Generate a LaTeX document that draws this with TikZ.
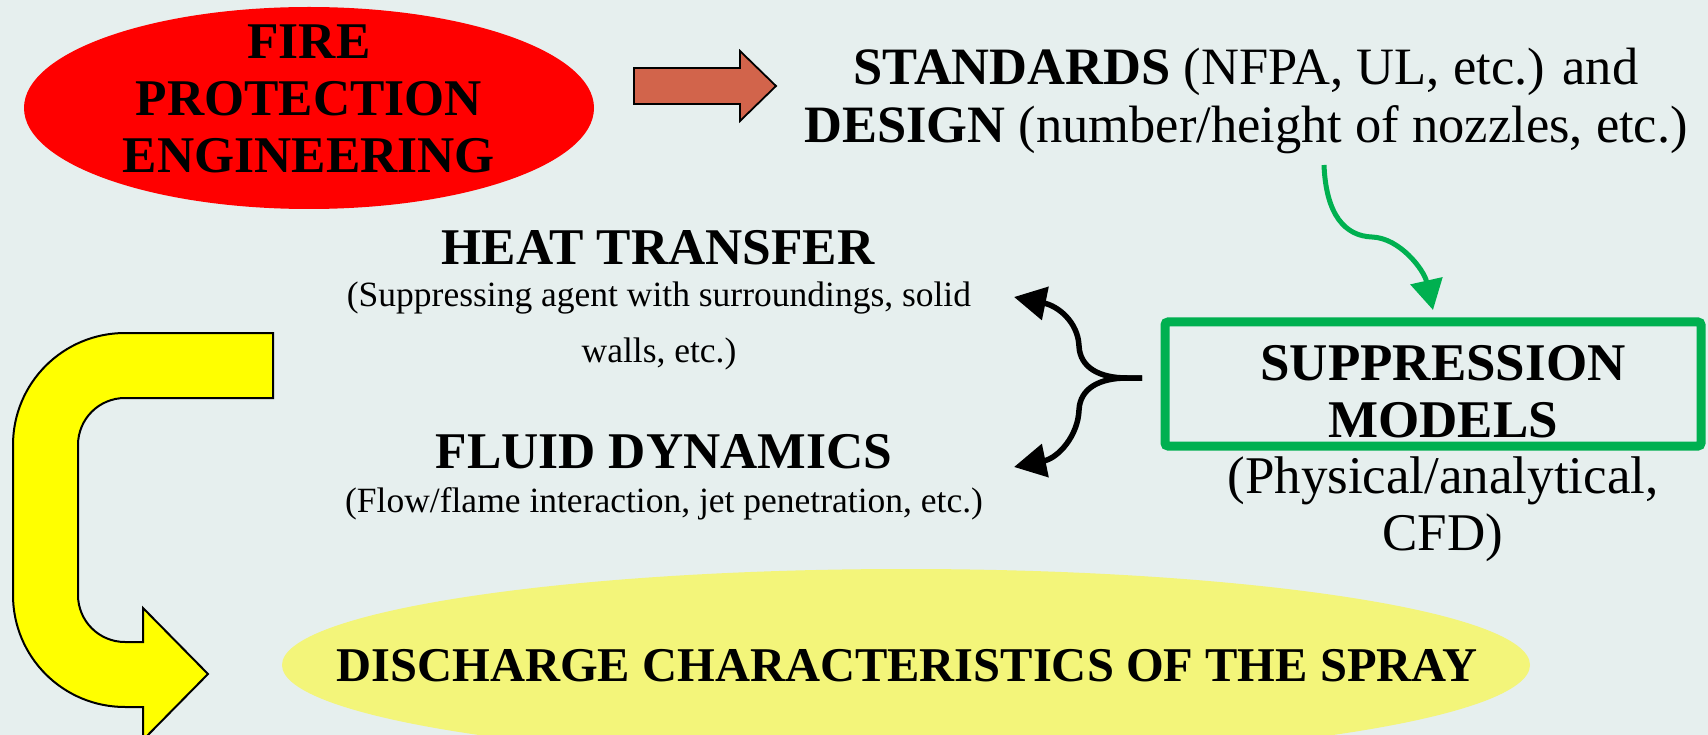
\documentclass[tikz,border=0pt]{standalone}
\usepackage{fontspec}
\setmainfont{Liberation Serif}
\usetikzlibrary{arrows.meta,shapes.geometric}
\definecolor{bgc}{RGB}{230,239,238}
\definecolor{fired}{RGB}{255,0,0}
\definecolor{coral}{RGB}{210,100,75}
\definecolor{grn}{RGB}{0,176,80}
\definecolor{paley}{RGB}{243,245,122}
\definecolor{yel}{RGB}{255,255,0}
\tikzset{
  txt/.style={inner sep=0pt, anchor=base},
  bigb/.style={txt, font=\fontsize{51.5}{60}\selectfont\bfseries},
  big/.style={txt, font=\fontsize{52.5}{60}\selectfont},
  small/.style={txt, font=\fontsize{35.5}{40}\selectfont},
  brace/.style={line width=5.5pt, -{Triangle[length=32pt,width=33pt]}},
}
\begin{document}
\begin{tikzpicture}[x=1pt,y=-1pt]
\fill[bgc] (0,0) rectangle (1708,735);
\useasboundingbox (0,0) rectangle (1708,735);

% red ellipse
\node[ellipse, fill=fired, minimum width=570pt, minimum height=202pt, inner sep=0pt] (fpe) at (309,108) {};
\node[bigb] (fpe1) at (309,59) {FIRE};
\node[bigb] (fpe2) at (309,116) {PROTECTION};
\node[bigb] (fpe3) at (309,173) {ENGINEERING};

% block arrow
\draw[fill=coral, line width=1.8pt, line join=miter] (634,68) -- (740,68) -- (740,51) -- (776,86) -- (740,121) -- (740,104) -- (634,104) -- cycle;

% standards
\node[big] (std1) at (1246,85) {{\bfseries STANDARDS} (NFPA, UL, etc.) and};
\node[big] (std2) at (1246,143) {{\bfseries DESIGN} (number/height of nozzles, etc.)};

% suppression models
\draw[grn, line width=9pt, rounded corners=3pt] (1165,322) rectangle (1701,446);
\node[big, font=\fontsize{53}{60}\selectfont\bfseries] (sm1) at (1443,380) {SUPPRESSION};
\node[big, font=\fontsize{53}{60}\selectfont\bfseries] (sm2) at (1443,437) {MODELS};
\node[big, font=\fontsize{53}{60}\selectfont] (sm3) at (1443,493) {(Physical/analytical,};
\node[big, font=\fontsize{53}{60}\selectfont] (sm4) at (1443,550) {CFD)};

% green arrow
\coordinate (gs) at (1324,165);
\coordinate (ge) at (1433,310);
\draw[grn, line width=5pt, -{Triangle[length=30pt,width=32pt]}] (gs) .. controls (1326,215) and (1345,236) .. (1372,237) .. controls (1400,238) and (1424,270) .. (ge);

% heat transfer / fluid dynamics
\node[bigb] (ht1) at (658,265) {HEAT TRANSFER};
\node[small] (ht2) at (659,307) {(Suppressing agent with surroundings, solid};
\node[small] (ht3) at (659,362) {walls, etc.)};
\node[bigb] (fd1) at (664,468) {FLUID DYNAMICS};
\node[small] (fd2) at (664,512) {(Flow/flame interaction, jet penetration, etc.)};

% brace arrows
\coordinate (bj) at (1142,378);
\coordinate (bt) at (1014,297);
\coordinate (bb) at (1014,467);
\draw[brace] (bj) -- (1127,378) .. controls (1100,378) and (1080,368) .. (1079,346) .. controls (1078,322) and (1058,306) .. (bt);
\draw[brace] (bj) -- (1127,378) .. controls (1100,378) and (1080,388) .. (1079,410) .. controls (1078,436) and (1058,458) .. (bb);

% bottom ellipse
\node[ellipse, fill=paley, minimum width=1248pt, minimum height=192pt, inner sep=0pt] (dc) at (906,665) {};
\node[txt, font=\fontsize{48.5}{55}\selectfont\bfseries] (dct) at (907,681) {DISCHARGE CHARACTERISTICS OF THE SPRAY};

% yellow U arrow
\draw[fill=yel, line width=2pt, line join=miter] (273,333) -- (125,333) .. controls (63,333) and (13,383) .. (13,445) -- (13,595) .. controls (13,657) and (63,707) .. (125,707) -- (143,707) -- (143,740) -- (208,674) -- (143,608) -- (143,642) -- (125,642) .. controls (99,642) and (78,621) .. (78,595) -- (78,445) .. controls (78,419) and (99,398) .. (125,398) -- (273,398) -- cycle;
\end{tikzpicture}
\end{document}
